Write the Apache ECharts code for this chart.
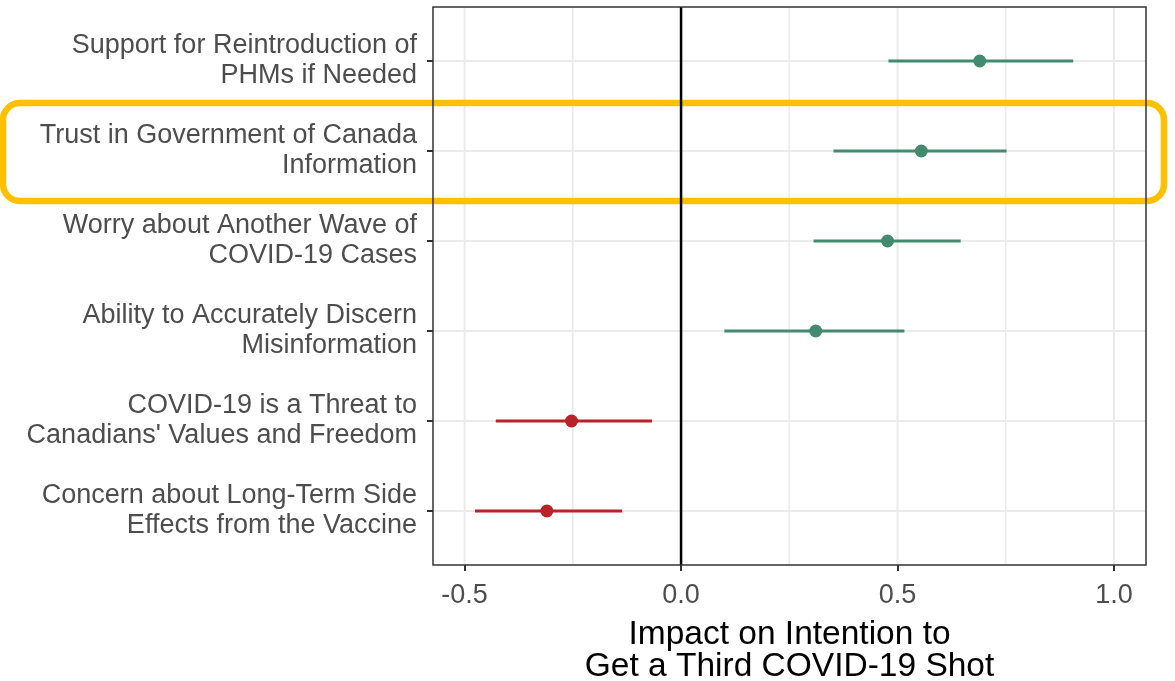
<!DOCTYPE html>
<html>
<head>
<meta charset="utf-8">
<script src="https://cdn.jsdelivr.net/npm/echarts@6/dist/echarts.min.js"></script>
<style>
html,body{margin:0;padding:0;background:#fff;}
#chart{width:1175px;height:681px;}
</style>
</head>
<body>
<div id="chart"></div>
<script>
// Categories listed bottom to top (position 1..6)
const categories = [
  "Concern about Long-Term Side\nEffects from the Vaccine",
  "COVID-19 is a Threat to\nCanadians' Values and Freedom",
  "Ability to Accurately Discern\nMisinformation",
  "Worry about Another Wave of\nCOVID-19 Cases",
  "Trust in Government of Canada\nInformation",
  "Support for Reintroduction of\nPHMs if Needed"
];
const estimates = [-0.310, -0.253, 0.311, 0.477, 0.555, 0.690];
const lowerCI   = [-0.476, -0.428, 0.100, 0.306, 0.352, 0.479];
const upperCI   = [-0.136, -0.067, 0.516, 0.646, 0.752, 0.906];
const xTickValues = [-0.5, 0, 0.5, 1.0];
const xMinorValues = [-0.25, 0.25, 0.75];
const xTitle = "Impact on Intention to\nGet a Third COVID-19 Shot";

const X_MIN = -0.573, X_MAX = 1.074, Y_MIN = 0.4, Y_MAX = 6.6;
const GREEN = '#428B6F', RED = '#B82228';
const FONT = 'Liberation Sans, Arial, Helvetica, sans-serif';

const positions = categories.map((c, i) => i + 1);
const colorFor = v => (v >= 0 ? GREEN : RED);

const chart = echarts.init(document.getElementById('chart'), null, {renderer: 'canvas'});

function vLine(color, width) {
  return function (params, api) {
    const x = api.value(0);
    const p1 = api.coord([x, Y_MIN]);
    const p2 = api.coord([x, Y_MAX]);
    return {type: 'line', shape: {x1: p1[0], y1: p1[1], x2: p2[0], y2: p2[1]},
            style: {stroke: color, lineWidth: width}};
  };
}

const option = {
  animation: false,
  backgroundColor: '#fff',
  grid: {left: 433, right: 29, top: 7, bottom: 116, show: false,
         containLabel: false, outerBoundsMode: 'none'},
  xAxis: {
    type: 'value', min: X_MIN, max: X_MAX,
    axisLine: {show: false, onZero: false},
    splitLine: {show: false},
    axisTick: {show: true, customValues: xTickValues, length: 6,
               lineStyle: {color: '#333', width: 2}},
    axisLabel: {customValues: xTickValues, margin: 17,
                formatter: v => Number(v).toFixed(1),
                color: '#4d4d4d', fontSize: 27, fontFamily: FONT},
    name: xTitle, nameLocation: 'middle', nameGap: 54,
    nameTextStyle: {color: '#000', fontSize: 33.5, lineHeight: 32, fontFamily: FONT}
  },
  yAxis: {
    type: 'value', min: Y_MIN, max: Y_MAX,
    axisLine: {show: false, onZero: false},
    splitLine: {show: false},
    axisTick: {show: true, customValues: positions, length: 6,
               lineStyle: {color: '#333', width: 2}},
    axisLabel: {customValues: positions, margin: 16,
                formatter: v => categories[Math.round(v) - 1] || '',
                color: '#4d4d4d', fontSize: 27, lineHeight: 30, fontFamily: FONT, align: 'right'}
  },
  graphic: [{
    type: 'rect', z: 5,
    shape: {x: 3, y: 103, width: 1161, height: 98, r: 17},
    style: {fill: 'none', stroke: '#FFC000', lineWidth: 6.5}
  }],
  series: [
    { // vertical gridlines (major & minor)
      type: 'custom', z: 1, silent: true,
      data: [-0.5, 0.5, 1.0].map(v => [v]),
      renderItem: vLine('#EBEBEB', 2)
    },
    {
      type: 'custom', z: 1, silent: true,
      data: xMinorValues.map(v => [v]),
      renderItem: vLine('#EBEBEB', 1.6)
    },
    { // horizontal gridlines at categories
      type: 'custom', z: 1, silent: true,
      data: positions.map(p => [p]),
      renderItem: function (params, api) {
        const y = api.value(0);
        const p1 = api.coord([X_MIN, y]);
        const p2 = api.coord([X_MAX, y]);
        return {type: 'line', shape: {x1: p1[0], y1: p1[1], x2: p2[0], y2: p2[1]},
                style: {stroke: '#EBEBEB', lineWidth: 2}};
      }
    },
    { // zero line
      type: 'custom', z: 10, silent: true,
      data: [[0]],
      renderItem: vLine('#000', 2.5)
    },
    { // panel frame
      type: 'custom', z: 10, silent: true,
      data: [[X_MIN, Y_MIN, X_MAX, Y_MAX]],
      renderItem: function (params, api) {
        const a = api.coord([api.value(0), api.value(1)]);
        const b = api.coord([api.value(2), api.value(3)]);
        return {type: 'rect', shape: {x: a[0], y: b[1], width: b[0] - a[0], height: a[1] - b[1]},
                style: {fill: 'none', stroke: '#333', lineWidth: 1.5}};
      }
    },
    { // confidence intervals
      type: 'custom', z: 11,
      data: positions.map((p, i) => [lowerCI[i], upperCI[i], p, estimates[i]]),
      renderItem: function (params, api) {
        const y = api.value(2);
        const p1 = api.coord([api.value(0), y]);
        const p2 = api.coord([api.value(1), y]);
        return {type: 'line', shape: {x1: p1[0], y1: p1[1], x2: p2[0], y2: p2[1]},
                style: {stroke: colorFor(api.value(3)), lineWidth: 3}};
      }
    },
    { // point estimates
      type: 'scatter', z: 12, symbol: 'circle', symbolSize: 13,
      itemStyle: {opacity: 1},
      data: positions.map((p, i) => ({value: [estimates[i], p],
                                      itemStyle: {color: colorFor(estimates[i]), opacity: 1}}))
    }
  ]
};
chart.setOption(option);
</script>
</body>
</html>
